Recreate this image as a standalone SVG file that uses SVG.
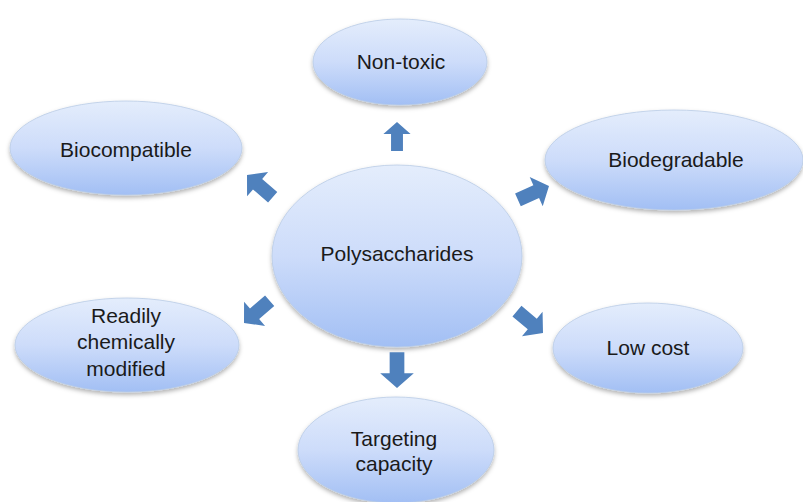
<svg xmlns="http://www.w3.org/2000/svg" width="803" height="502" viewBox="0 0 803 502">
  <defs>
    <linearGradient id="g" x1="0" y1="0" x2="0" y2="1">
      <stop offset="0" stop-color="#e4edfc"/>
      <stop offset="0.5" stop-color="#cddcfa"/>
      <stop offset="1" stop-color="#a2bff4"/>
    </linearGradient>
    <filter id="sh" x="-10%" y="-10%" width="120%" height="130%">
      <feDropShadow dx="0" dy="2.5" stdDeviation="2" flood-color="#000" flood-opacity="0.3"/>
    </filter>
    <path id="arr" d="M0,0 L16,14 L7,14 L7,34 L-7,34 L-7,14 L-16,14 Z"/>
  </defs>
  <style>
    .n ellipse { fill: url(#g); stroke: #b9cbe6; stroke-width: 0.8; filter: url(#sh); }
    .n text { font-family: "Liberation Sans", Arial, sans-serif; font-size: 21px; fill: #1a1a1a; text-anchor: middle; }
    .c use { fill: #4f81bd; }
  </style>
  <rect width="803" height="502" fill="#ffffff"/>

  <g id="center" class="n">
    <ellipse cx="397" cy="256" rx="125" ry="91"/>
    <text x="397" y="261">Polysaccharides</text>
  </g>
  <g id="nontoxic" class="n">
    <ellipse cx="400" cy="62" rx="87" ry="43"/>
    <text x="401" y="69">Non-toxic</text>
  </g>
  <g id="biocompatible" class="n">
    <ellipse cx="126" cy="148" rx="116" ry="47"/>
    <text x="126" y="157">Biocompatible</text>
  </g>
  <g id="biodegradable" class="n">
    <ellipse cx="674" cy="160" rx="129" ry="50"/>
    <text x="676" y="167">Biodegradable</text>
  </g>
  <g id="readily" class="n">
    <ellipse cx="127" cy="345" rx="112" ry="47"/>
    <text x="126" y="323">Readily</text>
    <text x="126" y="349">chemically</text>
    <text x="126" y="376">modified</text>
  </g>
  <g id="lowcost" class="n">
    <ellipse cx="648" cy="348" rx="95" ry="45"/>
    <text x="648" y="355">Low cost</text>
  </g>
  <g id="targeting" class="n">
    <ellipse cx="396" cy="450" rx="98" ry="53"/>
    <text x="394" y="446">Targeting</text>
    <text x="394" y="471">capacity</text>
  </g>

  <g id="connectors" class="c">
    <use href="#arr" transform="translate(397,122) scale(0.85)"/>
    <use href="#arr" transform="translate(397,388) rotate(180) scale(1.05)"/>
    <use href="#arr" transform="translate(247,175) rotate(-49)"/>
    <use href="#arr" transform="translate(549,186) rotate(66)"/>
    <use href="#arr" transform="translate(543,333) rotate(130)"/>
    <use href="#arr" transform="translate(244,323) rotate(-131)"/>
  </g>
</svg>
